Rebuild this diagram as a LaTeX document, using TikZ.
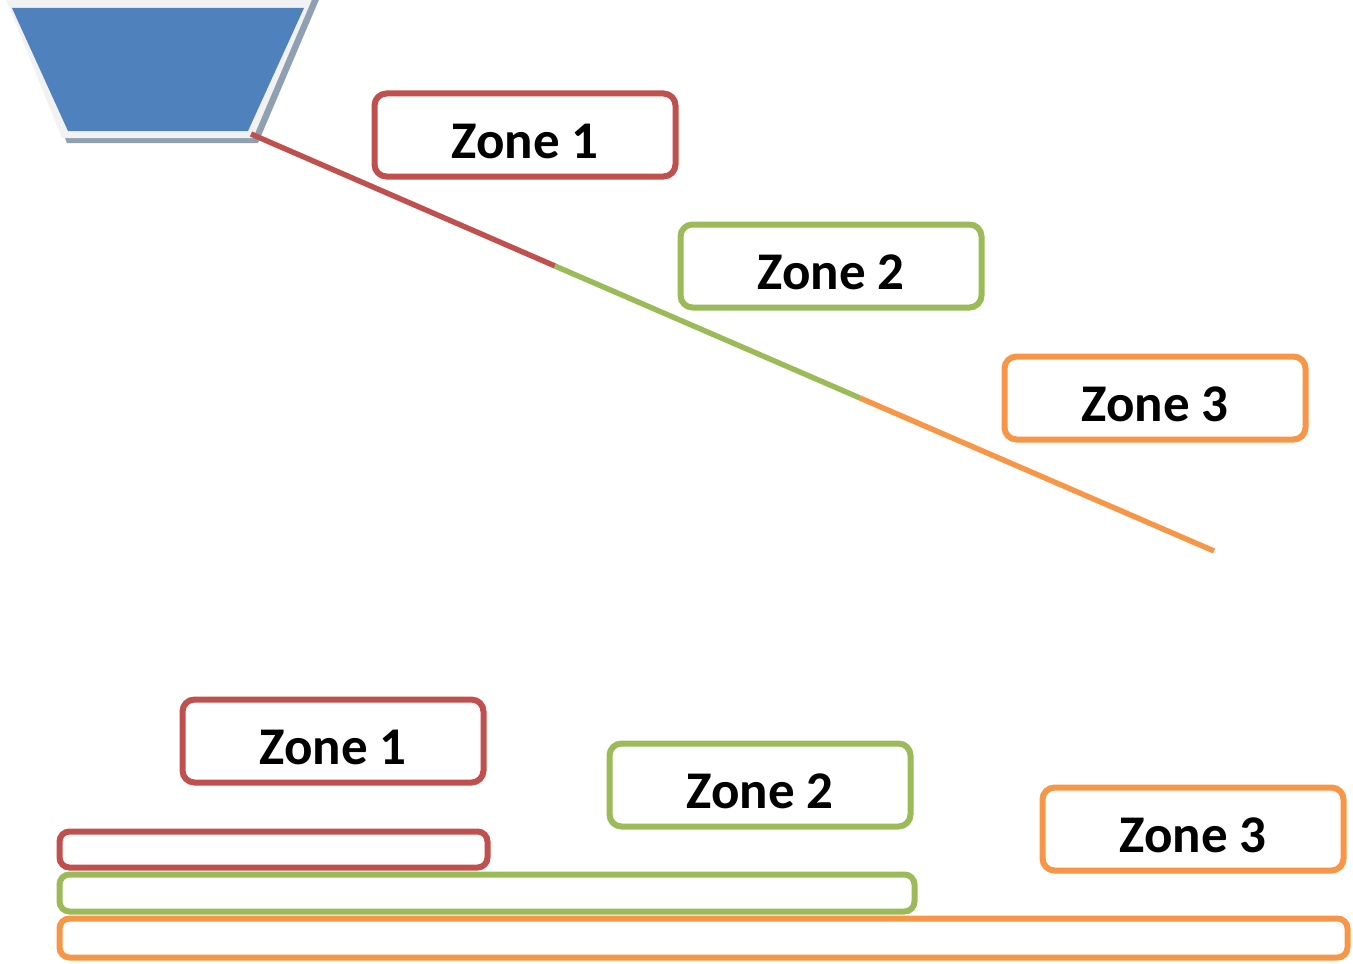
\documentclass[tikz,border=0pt]{standalone}
\usepackage{fontspec}
\setmainfont{Carlito}
\definecolor{zred}{HTML}{C0504D}
\definecolor{zgreen}{HTML}{9BBB59}
\definecolor{zorange}{HTML}{F79646}
\definecolor{hopper}{HTML}{4F81BD}
\definecolor{rim}{HTML}{F2F2F2}
\definecolor{rimshade}{HTML}{8FA0B3}
\begin{document}
\begin{tikzpicture}[x=0.5pt,y=-0.5pt,
  zone/.style={rounded corners=6pt, line width=3pt, fill=white,
    minimum width=150.5pt, minimum height=41.5pt, text height=25pt, text depth=2pt,
    font=\bfseries\fontsize{26.5}{30}\selectfont},
  bar/.style={rounded corners=5pt, line width=3pt},
  track/.style={line width=2.7pt}]
\useasboundingbox (0,0) rectangle (1353,963);
% hopper
\fill [rimshade] (7,-5) -- (321,-5) -- (258,143) -- (67,143) -- cycle;
\fill [rim] (2,-10) -- (316,-10) -- (253,138) -- (62,138) -- cycle;
\fill [hopper] (12,8) -- (304,8) -- (248,131) -- (68,131) -- cycle;

\coordinate (start) at (251,134);
\coordinate (z12) at (555,266);
\coordinate (z23) at (860,398);
\coordinate (stop) at (1214,551);
\draw [track, zred] (start) -- (z12);
\draw [track, zgreen] (z12) -- (z23);
\draw [track, zorange] (z23) -- (stop);

\node [zone, draw=zred] (top1) at (525,135) {Zone 1};
\node [zone, draw=zgreen] (top2) at (831,266) {Zone 2};
\node [zone, draw=zorange] (top3) at (1155,398) {Zone 3};

% bars
\draw [bar, zred] (59.5,831.5) rectangle (487.5,867.5);
\draw [bar, zgreen] (59.5,874.5) rectangle (914.5,911.5);
\draw [bar, zorange] (59.5,918.5) rectangle (1347.5,957.5);

\node [zone, draw=zred] (low1) at (333,741) {Zone 1};
\node [zone, draw=zgreen] (low2) at (760,785) {Zone 2};
\node [zone, draw=zorange] (low3) at (1193,829) {Zone 3};
\end{tikzpicture}
\end{document}
